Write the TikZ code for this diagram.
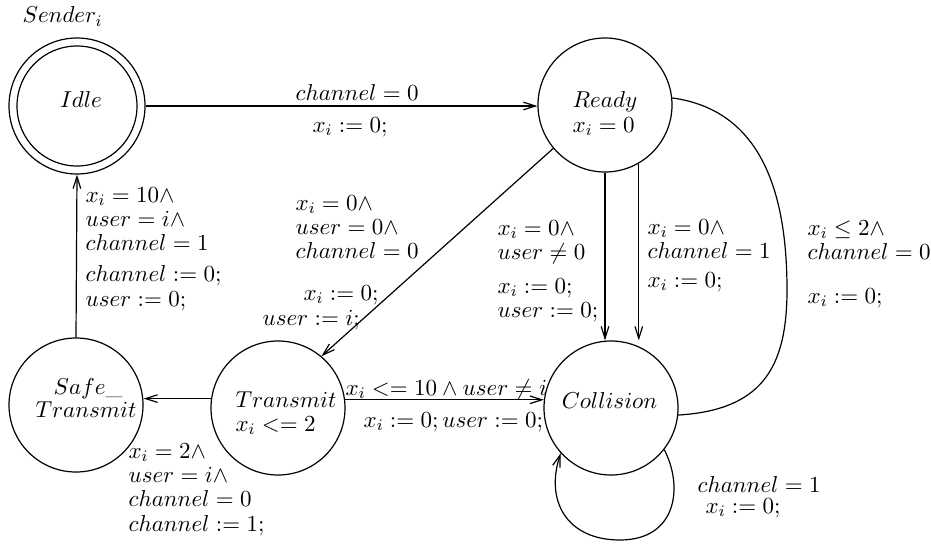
\RequirePackage{fix-cm}
\documentclass[tikz,border=0pt]{standalone}
\usetikzlibrary{arrows.meta}

% left-aligned block of lines whose baseline is the first line
\newcommand\stack[1]{\begin{tabular}[t]{@{}l@{}}#1\end{tabular}}

\begin{document}
\begin{tikzpicture}[x=0.5pt, y=-0.5pt, line width=0.6pt,
  font=\fontsize{11.5}{12.2}\selectfont,
  state/.style={circle, draw, minimum size=67pt, inner sep=0pt},
  lbl/.style={anchor=base west, inner sep=0pt},
  ctr/.style={anchor=base, inner sep=0pt},
  arr/.style={-{Straight Barb[length=6pt,width=3.8pt]}}]
\useasboundingbox (0,0) rectangle (931,546);

% locations
\node[state, minimum size=68pt] (idle) at (77,106) {};
\draw (idle.center) circle[radius=30pt];
\node[state] (ready) at (605,105) {};
\node[state] (transmit) at (278,408) {};
\node[state] (collision) at (611,408) {};
\node[state] (safe) at (76,405) {};

% names and invariants
\node[lbl] (sender) at (22,23) {$Sender_i$};
\node[ctr] (idleT) at (81,107) {$Idle$};
\node[lbl] (readyT) at (572,107) {\stack{$Ready$\\[0.3pt]$x_i = 0$}};
\node[lbl] (transmitT) at (235,407) {\stack{$Transmit$\\$x_i <= 2$}};
\node[lbl] (safeA) at (53,394) {$Safe\_$};
\node[lbl] (safeB) at (35,417) {$Transmit$};
\node[ctr] (collisionT) at (609.5,408) {$Collision$};

% transitions
\draw[arr] (idle.east) -- (idle.east -| ready.west);
\draw[arr] (safe.north) -- (idle.south);
\draw[arr] (ready.220) -- (transmit.50);
\draw[arr] (ready.south) -- (ready.south |- collision.north);
\draw[arr] (ready.-60) -- (ready.-60 |- collision.north);
\draw (ready.6) .. controls (760,110) and (787,190) .. (787,290)
      .. controls (787,370) and (760,410) .. (collision.-6);
\draw[arr] (transmit.7) -- (collision.173);
\draw[arr] (transmit.172) -- (transmit.172 -| safe.east);
\draw[arr] (collision.-38) .. controls (684,488) and (676,540) .. (620,540)
      .. controls (566,540) and (545,500) .. (collision.-138);

% guards and updates
\node[lbl] (g1) at (295,100) {$channel = 0$};
\node[lbl] (u1) at (312,132) {$x_i := 0;$};
\node[lbl] (g2) at (85,202) {\stack{$x_i = 10\wedge$\\$user = i\wedge$\\$channel = 1$\\[3.3pt]$channel := 0;$\\$user := 0;$}};
\node[lbl] (g3) at (295,210) {\stack{$x_i = 0\wedge$\\$user = 0\wedge$\\$channel = 0$}};
\node[lbl] (u3a) at (303,300) {$x_i := 0;$};
\node[lbl] (u3b) at (262,325) {$user := i;$};
\node[lbl] (g4) at (497,235) {\stack{$x_i = 0\wedge$\\$user \neq 0$\\[4.8pt]$x_i := 0;$\\$user := 0;$}};
\node[lbl] (g5) at (647,234) {\stack{$x_i = 0\wedge$\\$channel = 1$\\[2.3pt]$x_i := 0;$}};
\node[lbl] (g6) at (807,235) {\stack{$x_i \leq 2\wedge$\\$channel = 0$\\[9.8pt]$x_i := 0;$}};
\node[lbl] (g7) at (345,395) {$x_i <= 10 \wedge user \neq i$};
\node[lbl] (u7) at (363,427) {$x_i := 0; user := 0;$};
\node[lbl] (g8) at (128,458) {\stack{$x_i = 2\wedge$\\$user = i\wedge$\\$channel = 0$\\$channel := 1;$}};
\node[lbl] (g9) at (697,492) {$channel = 1$};
\node[lbl] (u9) at (705,513) {$x_i := 0;$};
\end{tikzpicture}
\end{document}
